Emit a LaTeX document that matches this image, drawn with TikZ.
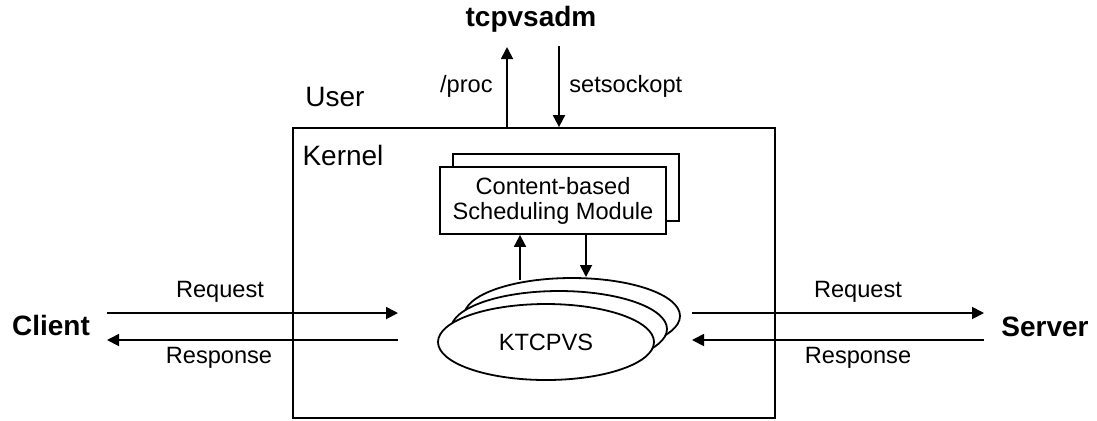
\documentclass[tikz,border=0pt]{standalone}
\usepackage{fontspec}
\setmainfont{Liberation Sans}
\usetikzlibrary{positioning,arrows.meta,shapes.geometric}
\tikzset{
modbox/.style={
  draw,fill=white,line width=0.9pt,
  minimum width=113pt,minimum height=33.5pt,inner sep=0pt},
procell/.style={
  draw,fill=white,ellipse,line width=0.9pt,
  minimum width=108pt,minimum height=38pt,inner sep=0pt},
flow/.style={line width=0.9pt,-{Triangle[length=6pt,width=6pt]}},
lbl/.style={font=\fontsize{11.8}{12.5}\selectfont,inner sep=0pt},
layer/.style={font=\fontsize{14}{16}\selectfont,inner sep=0pt},
endpt/.style={font=\fontsize{14}{16}\selectfont\bfseries,inner sep=0pt}
}
\begin{document}
\begin{tikzpicture}[x=0.5pt,y=-0.5pt]
\useasboundingbox (0,0) rectangle (1097,420);

\node[draw,line width=0.9pt,minimum width=241pt,minimum height=145pt,inner sep=0pt](kernel) at (534,273){};
\node[layer](user) at (335,97){User};
\node[layer](kname) at (343,155){Kernel};

\node[modbox](modback) at (566,187.5){};
\node[modbox,lbl,align=center](modfront) at (553,200.5){Content-based\\Scheduling Module};

\node[procell](kback) at (572,316){};
\node[procell](kmid) at (559,329){};
\node[procell,lbl](kfront) at (546,342){KTCPVS};

\node[endpt](admin) at (531,19){tcpvsadm};
\node[endpt](client) at (51,325){Client};
\node[endpt](server) at (1045,327){Server};

\coordinate (procbase) at (507,128);
\coordinate (proctip) at (507,47);
\coordinate (socktop) at (559,46);
\coordinate (upbase) at (520,280);
\coordinate (downtip) at (586,277);
\path[flow](procbase) edge (proctip);
\path[flow](socktop) edge (socktop |- kernel.north);
\path[flow](upbase) edge (upbase |- modfront.south);
\path[flow](downtip |- modfront.south) edge (downtip);

\node[lbl,anchor=east](proclbl) at (493,86){/proc};
\node[lbl,anchor=west](socklbl) at (569,86){setsockopt};

\coordinate (clreqa) at (107,313);
\coordinate (clreqb) at (398,313);
\coordinate (clresa) at (398,340);
\coordinate (clresb) at (107,340);
\coordinate (svreqa) at (692,313);
\coordinate (svreqb) at (984,313);
\coordinate (svresa) at (984,340);
\coordinate (svresb) at (692,340);
\path[flow](clreqa) edge (clreqb);
\path[flow](clresa) edge (clresb);
\path[flow](svreqa) edge (svreqb);
\path[flow](svresa) edge (svresb);

\node[lbl](clreqlbl) at (220,292){Request};
\node[lbl](clreslbl) at (219,358){Response};
\node[lbl](svreqlbl) at (858,292){Request};
\node[lbl](svreslbl) at (858,358){Response};

\end{tikzpicture}
\end{document}
